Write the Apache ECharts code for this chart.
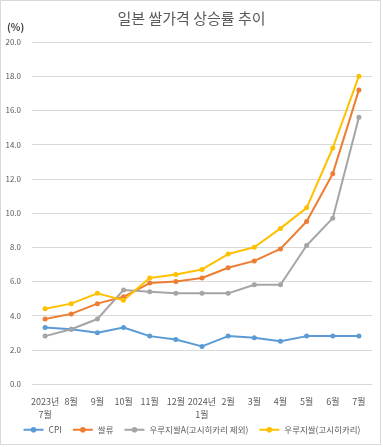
<!DOCTYPE html>
<html><head><meta charset="utf-8">
<script src="https://cdn.jsdelivr.net/npm/echarts@6/dist/echarts.min.js"></script>
<style>html,body{margin:0;padding:0;background:#fff}#c{width:383px;height:447px}</style>
</head><body><div id="c"></div>
<script>
const categories = ['2023년\n7월','8월','9월','10월','11월','12월','2024년\n1월','2월','3월','4월','5월','6월','7월'];
const cpi = [3.3,3.2,3.0,3.3,2.8,2.6,2.2,2.8,2.7,2.5,2.8,2.8,2.8];
const rice = [3.8,4.1,4.7,5.1,5.9,6.0,6.2,6.8,7.2,7.9,9.5,12.3,17.2];
const uruchiA = [2.8,3.2,3.8,5.5,5.4,5.3,5.3,5.3,5.8,5.8,8.1,9.7,15.6];
const uruchiK = [4.4,4.7,5.3,4.9,6.2,6.4,6.7,7.6,8.0,9.1,10.3,13.8,18.0];
const seriesNames = ['CPI','쌀류','우루지쌀A(고시히카리 제외)','우루지쌀(고시히카리)'];
const colors = ['#5B9BD5','#ED7D31','#A5A5A5','#FFC000'];
const dataSets = [cpi, rice, uruchiA, uruchiK];
const FONT = '"Noto Sans CJK KR", "Noto Sans", sans-serif';
const chart = echarts.init(document.getElementById('c'));
chart.setOption({
  backgroundColor: '#fff',
  textStyle: {fontFamily: FONT},
  title: {text: '일본 쌀가격 상승률 추이', left: 'center', top: 6,
    textStyle: {fontSize: 15, fontWeight: 'normal', color: '#595959', fontFamily: FONT}},
  graphic: [
    {type: 'rect', shape: {x: 0.5, y: 0.5, width: 380, height: 444}, style: {fill: 'none', stroke: '#d9d9d9', lineWidth: 1}},
    {type: 'text', left: 7, top: 22, style: {text: '(%)', font: 'bold 10px ' + FONT, fill: '#404040'}}
  ],
  grid: {left: 32, right: 11, top: 42, bottom: 63},
  legend: {bottom: 8, left: 'center', itemWidth: 20, itemHeight: 7, itemGap: 10,
    textStyle: {fontSize: 8.5, color: '#595959', fontFamily: FONT},
    data: seriesNames},
  xAxis: {type: 'category', data: categories, boundaryGap: true,
    axisLine: {lineStyle: {color: '#d9d9d9'}}, axisTick: {show: false},
    axisLabel: {color: '#595959', fontSize: 9, margin: 11, lineHeight: 13, interval: 0}},
  yAxis: {type: 'value', min: 0, max: 20, interval: 2,
    axisLabel: {formatter: v => v.toFixed(1), color: '#595959', fontSize: 8, margin: 11},
    splitLine: {lineStyle: {color: '#d9d9d9'}}, axisLine: {show: false}, axisTick: {show: false}},
  series: dataSets.map((d, i) => ({
    name: seriesNames[i], type: 'line', data: d, symbol: 'circle', symbolSize: 5,
    itemStyle: {color: colors[i]}, lineStyle: {color: colors[i], width: 2},
    emphasis: {disabled: true}
  }))
});
</script></body></html>
